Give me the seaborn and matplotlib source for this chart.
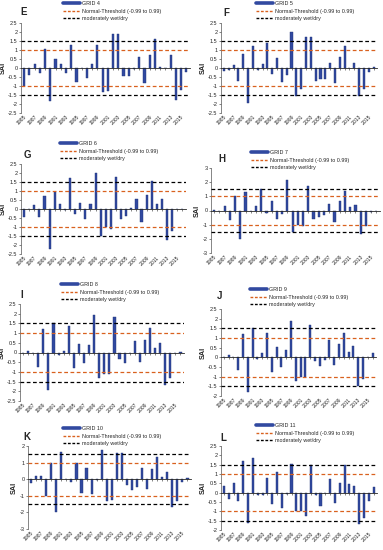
import numpy as np
import pandas as pd
import matplotlib
matplotlib.use("Agg")
import matplotlib.pyplot as plt
import seaborn as sns
from matplotlib.lines import Line2D

sns.set_style("white")
plt.rcParams["font.family"] = ["Liberation Sans", "DejaVu Sans"]

years = list(range(1985, 2017))

# SAI values, one list per grid
grid4 = [-1.0, -0.4, 0.25, -0.3, 1.05, -1.85, 0.5, 0.2, -0.25, 1.3, -0.75, 0.02,
         -0.55, 0.25, 1.3, -1.35, -1.25, 1.9, 1.9, -0.45, -0.45, -0.05, 0.6, -0.85,
         0.75, 1.6, 0.05, 0.02, 0.7, -1.8, -1.2, -0.2]
grid5 = [-0.15, -0.1, 0.15, -0.7, 0.8, -1.95, 1.2, -0.1, 0.25, 1.4, -0.35, 0.55,
         -0.8, -0.4, 2.0, -1.55, -1.15, 1.7, 1.7, -0.7, -0.6, -0.6, 0.3, -0.85,
         0.6, 1.2, 0.0, 0.3, -1.55, -1.15, -0.2, 0.05]
grid6 = [-0.45, 0.0, 0.2, -0.45, 0.7, -2.2, 0.95, 0.3, -0.05, 1.7, -0.3, 0.35,
         -0.55, 0.3, 2.0, -1.5, -1.0, -1.1, 1.75, -0.55, -0.4, 0.05, 0.55, -0.7,
         0.8, 1.55, 0.3, 0.55, -1.7, -1.2, 0.0, 0.0]
grid7 = [0.02, -0.05, 0.3, -0.7, 1.0, -2.0, 1.3, 0.0, 0.35, 1.5, -0.2, 0.7,
         -0.6, -0.25, 2.15, -1.5, -1.0, -1.1, 1.75, -0.6, -0.45, -0.3, 0.45, -0.8,
         0.7, 1.4, 0.25, 0.4, -1.65, -1.1, -0.1, -0.05]
grid8 = [-0.05, 0.1, 0.0, -0.75, 1.2, -1.95, 1.5, -0.15, 0.1, 1.35, -0.8, 0.45,
         -0.55, 0.4, 1.95, -1.3, -1.1, -1.1, 1.85, -0.35, -0.55, -0.05, 0.6, -0.5,
         0.65, 1.25, 0.25, 0.5, -1.65, -1.3, -0.05, 0.05]
grid9 = [0.0, 0.1, 0.0, -0.65, 1.2, -1.8, 1.5, -0.1, 0.2, 1.25, -0.75, 0.55,
         -0.5, 0.4, 1.9, -1.2, -1.0, -1.0, 1.65, -0.2, -0.45, -0.15, 0.9, -0.4,
         0.7, 1.25, 0.3, 0.6, -1.5, -1.1, 0.0, 0.25]
grid10 = [-0.2, 0.2, 0.2, -1.0, 1.0, -1.95, 1.65, 0.0, -0.15, 1.0, -0.85, 0.7,
          -0.9, -0.05, 1.75, -1.3, -1.25, 1.55, 1.55, -0.35, -0.65, -0.45, 0.65, -0.6,
          0.6, 1.35, 0.15, 0.45, -1.7, -1.3, -0.15, 0.05]
grid11 = [0.35, -0.35, 0.5, -0.45, 1.7, -1.6, 1.85, -0.1, -0.1, 0.8, -0.6, 1.1,
          -0.8, -0.05, 1.55, -1.0, -1.0, -1.25, 1.5, -0.15, -0.7, 0.0, 0.75, -0.55,
          0.5, 1.5, 0.45, 0.35, -1.7, -1.35, -0.45, 0.3]

letters = ["E", "F", "G", "H", "I", "J", "K", "L"]
grid_names = ["GRID 4", "GRID 5", "GRID 6", "GRID 7", "GRID 8", "GRID 9", "GRID 10", "GRID 11"]
series = [grid4, grid5, grid6, grid7, grid8, grid9, grid10, grid11]
y_limits = [(-2.5, 2.5, 0.5), (-2.5, 2.5, 0.5), (-2.5, 2.5, 0.5), (-3, 3, 1),
            (-2.5, 2.5, 0.5), (-2, 2.5, 0.5), (-3, 2, 1), (-2, 2.5, 0.5)]
normal_thr = 1.0
moderate_thr = 1.5

# layout in pixels: axes (left, top, right, bottom), legend (x, y), letter (x, y)
W, H = 383, 550
axes_px = [(21, 23, 190, 113), (221, 23, 377, 113),
           (21, 164, 186, 254), (211, 168, 380, 253),
           (20, 304, 184, 401), (221, 309, 376, 396),
           (28, 446, 191, 529), (221, 446, 377, 530)]
legend_px = [(62, 0), (255, 0), (59, 140), (250, 149),
             (60, 281), (249, 286), (62, 425), (255, 422)]
letter_px = [(24, 12), (226, 13), (27, 155), (222, 159),
             (22, 295), (220, 296), (27, 437), (223, 438)]

BAR = "#3149A0"
ORANGE = "#D9611F"

fig = plt.figure(figsize=(W / 100, H / 100), dpi=100)

for i in range(8):
    l, t, r, b = axes_px[i]
    ax = fig.add_axes([l / W, 1 - b / H, (r - l) / W, (b - t) / H])
    df = pd.DataFrame({"year": [str(y) for y in years], "SAI": series[i]})
    sns.barplot(data=df, x="year", y="SAI", ax=ax, color=BAR, width=0.42,
                edgecolor="#1E3378", linewidth=0.3, saturation=1)
    lo, hi, step = y_limits[i]
    ax.set_ylim(lo, hi)
    ax.set_yticks(np.arange(lo, hi + step / 2, step))
    ax.yaxis.set_major_formatter(plt.FuncFormatter(lambda v, _: f"{v:g}"))
    ax.set_xlim(-0.6, len(years) - 0.3)

    for s in [-normal_thr, normal_thr]:
        ax.axhline(s, color=ORANGE, lw=0.9, ls=(0, (3, 2)), zorder=3)
    for s in [-moderate_thr, moderate_thr]:
        ax.axhline(s, color="black", lw=0.9, ls=(0, (3, 2)), zorder=3)

    # category axis crosses at zero, labels stay at the bottom
    ax.spines["bottom"].set_position(("data", 0))
    ax.spines["bottom"].set_linewidth(0.6)
    ax.spines["top"].set_visible(False)
    ax.spines["right"].set_visible(False)
    ax.spines["left"].set_linewidth(0.5)
    ax.spines["left"].set_color("#555555")
    ax.set_xticks(range(len(years)))
    ax.tick_params(axis="x", labelbottom=False, length=1.5, width=0.4, direction="out", bottom=True)
    ax.tick_params(axis="y", labelsize=4, length=1.5, width=0.4, pad=1, left=True)
    sec = ax.secondary_xaxis("bottom")
    sec.spines["bottom"].set_visible(False)
    sec.set_xticks(range(0, len(years) - 1, 2), labels=[str(y) for y in years[::2]])
    sec.tick_params(length=0, labelsize=3.7, pad=1)
    for lab in sec.get_xticklabels():
        lab.set_rotation(45)
        lab.set_ha("right")
        lab.set_rotation_mode("anchor")

    ax.set_xlabel("")
    ax.set_ylabel("SAI", fontsize=5.2, fontweight="bold", labelpad=1)

    handles = [Line2D([], [], color=BAR, lw=2.6),
               Line2D([], [], color=ORANGE, lw=1, ls=(0, (2, 1.2))),
               Line2D([], [], color="black", lw=1, ls=(0, (2, 1.2)))]
    labels = [grid_names[i], "Normal-Threshold (-0.99 to 0.99)", "moderately wet/dry"]
    lx, ly = legend_px[i]
    fig.legend(handles, labels, loc="upper left", bbox_to_anchor=(lx / W, 1 - ly / H),
               frameon=False, fontsize=3.9, handlelength=3.2, handletextpad=0.3,
               labelspacing=0.45, borderaxespad=0, borderpad=0.2)

    tx, ty = letter_px[i]
    fig.text(tx / W, 1 - ty / H, letters[i], fontsize=7, fontweight="bold",
             ha="center", va="center")

fig.savefig("out.png", dpi=100)
